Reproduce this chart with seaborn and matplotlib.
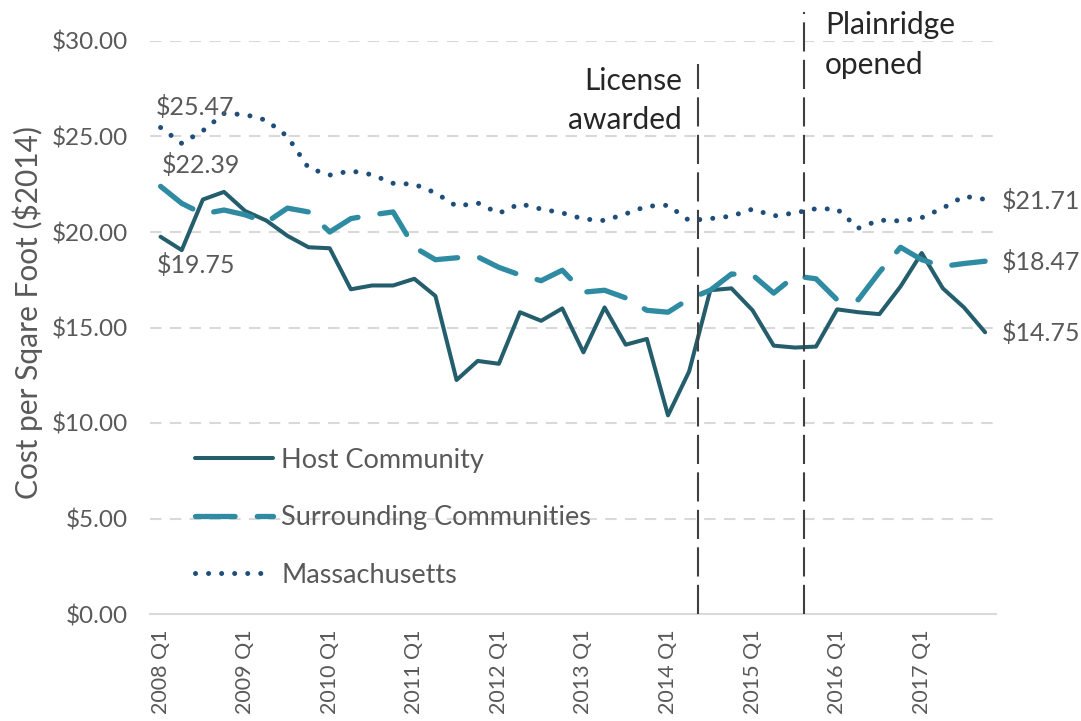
import matplotlib
matplotlib.use("Agg")
import matplotlib.pyplot as plt
import matplotlib.transforms as mtransforms
import seaborn as sns
import pandas as pd

# quarterly cost per square foot ($2014)
years = list(range(2008, 2018))
quarters = [f"{y} Q{q}" for y in years for q in range(1, 5)]

host = [19.75, 19.05, 21.70, 22.10, 21.10, 20.60, 19.80, 19.20, 19.15, 17.00,
        17.20, 17.20, 17.55, 16.65, 12.25, 13.25, 13.10, 15.80, 15.35, 16.00,
        13.70, 16.05, 14.10, 14.40, 10.40, 12.70, 16.95, 17.05, 15.90, 14.05,
        13.95, 14.00, 15.95, 15.80, 15.70, 17.15, 18.90, 17.05, 16.05, 14.75]
surrounding = [22.39, 21.50, 20.95, 21.15, 20.90, 20.50, 21.25, 21.05, 20.00, 20.70,
               20.90, 21.05, 19.20, 18.55, 18.65, 18.70, 18.15, 17.75, 17.45, 18.00,
               16.85, 16.95, 16.55, 15.90, 15.80, 16.50, 16.95, 17.80, 17.75, 16.80,
               17.70, 17.55, 16.45, 16.45, 17.90, 19.20, 18.55, 18.20, 18.35, 18.47]
massachusetts = [25.47, 24.64, 25.30, 26.20, 26.15, 25.85, 25.00, 23.35, 22.98, 23.20,
                 23.00, 22.55, 22.50, 22.05, 21.35, 21.52, 20.98, 21.48, 21.20, 21.00,
                 20.68, 20.60, 20.95, 21.35, 21.40, 20.60, 20.70, 20.83, 21.20, 20.84,
                 21.00, 21.22, 21.20, 20.20, 20.62, 20.58, 20.75, 21.25, 21.87, 21.71]

series_names = ["Host Community", "Surrounding Communities", "Massachusetts"]
series_colors = ["#245E6C", "#2F8BA2", "#1F4E7A"]

df = pd.DataFrame({"quarter": quarters, "idx": range(len(quarters)),
                   "Host Community": host,
                   "Surrounding Communities": surrounding,
                   "Massachusetts": massachusetts})

sns.set_style("white")
plt.rcParams["font.family"] = ["Lato", "DejaVu Sans"]

fig = plt.figure(figsize=(10.81, 7.21), dpi=100)
ax = fig.add_axes([150 / 1081, 1 - 614 / 721, 845.7 / 1081, 573 / 721])

gray_txt = "#595959"

# gridlines
for v in range(5, 31, 5):
    ax.axhline(v, color="#D9D9D9", lw=1.5, dashes=(5.5, 4), zorder=0)

styles = {
    "Host Community": dict(lw=2.9),
    "Surrounding Communities": dict(lw=3.8),
    "Massachusetts": dict(lw=3.6),
}
for name, col in zip(series_names, series_colors):
    sns.lineplot(data=df, x="idx", y=name, ax=ax, color=col, label=name,
                 **styles[name])
    line = ax.lines[-1]
    if name == "Surrounding Communities":
        line.set_dashes((7.5, 4.2))
        line.set_dash_capstyle("round")
    elif name == "Massachusetts":
        line.set_dashes((0.01, 2.6))
        line.set_dash_capstyle("round")
    line.set_solid_capstyle("round")

ax.set_xlim(-0.5, len(quarters) - 0.5)
ax.set_ylim(0, 30)
ax.set_yticks(range(0, 31, 5))
ax.set_yticklabels([f"${v:.2f}" for v in range(0, 31, 5)], color=gray_txt, fontsize=17.5)
ax.tick_params(axis="y", length=0, pad=16)

ax.set_xticks(range(0, len(quarters), 4))
ax.set_xticklabels(quarters[::4], rotation=90, color=gray_txt, fontsize=15.5)
ax.set_xticks([i - 0.5 for i in range(len(quarters) + 1)], minor=True)
ax.tick_params(axis="x", which="major", length=0, pad=11)
ax.tick_params(axis="x", which="minor", length=6.5, width=1.2, color="#D9D9D9", direction="out")

for s in ["top", "right", "left"]:
    ax.spines[s].set_visible(False)
ax.spines["bottom"].set_color("#D9D9D9")
ax.spines["bottom"].set_linewidth(1.5)

ax.set_xlabel("")
ax.set_ylabel("Cost per Sqare Foot ($2014)", color=gray_txt, fontsize=21.5)
ax.yaxis.set_label_coords(-0.127, 0.526)

# event markers
trans = mtransforms.blended_transform_factory(ax.transData, ax.transAxes)
ax.plot([25.42, 25.42], [0, (614 - 64) / 573], transform=trans, color="#404040",
        lw=1.5, dashes=(14, 4), clip_on=False, zorder=5)
ax.plot([30.43, 30.43], [0, (614 - 12) / 573], transform=trans, color="#404040",
        lw=1.5, dashes=(14, 4), clip_on=False, zorder=5)
ax.text(24.66, 28.64, "License\nawarded", ha="right", va="top", fontsize=21.5,
        color="#262626", linespacing=1.5)
ax.text(31.43, 31.55, "Plainridge\nopened", ha="left", va="top", fontsize=21.5,
        color="#262626", linespacing=1.5, clip_on=False)

# value labels at both ends
lab_col = "#595959"
ax.text(1.65, 26.52, f"${massachusetts[0]:.2f}", ha="center", va="center", fontsize=18, color=lab_col)
ax.text(1.91, 23.5, f"${surrounding[0]:.2f}", ha="center", va="center", fontsize=18, color=lab_col)
ax.text(1.67, 18.25, f"${host[0]:.2f}", ha="center", va="center", fontsize=18, color=lab_col)
ax.text(39.8, 21.62, f"${massachusetts[-1]:.2f}", ha="left", va="center", fontsize=18, color=lab_col, clip_on=False)
ax.text(39.8, 18.43, f"${surrounding[-1]:.2f}", ha="left", va="center", fontsize=18, color=lab_col, clip_on=False)
ax.text(39.8, 14.71, f"${host[-1]:.2f}", ha="left", va="center", fontsize=18, color=lab_col, clip_on=False)

leg = ax.legend(loc="upper left", bbox_to_anchor=(0.053, 0.29), frameon=False,
                fontsize=19.5, handlelength=2.9, handletextpad=0.3,
                labelspacing=1.2, borderpad=0, borderaxespad=0)
for t in leg.get_texts():
    t.set_color(gray_txt)

fig.savefig("out.png", dpi=100)
